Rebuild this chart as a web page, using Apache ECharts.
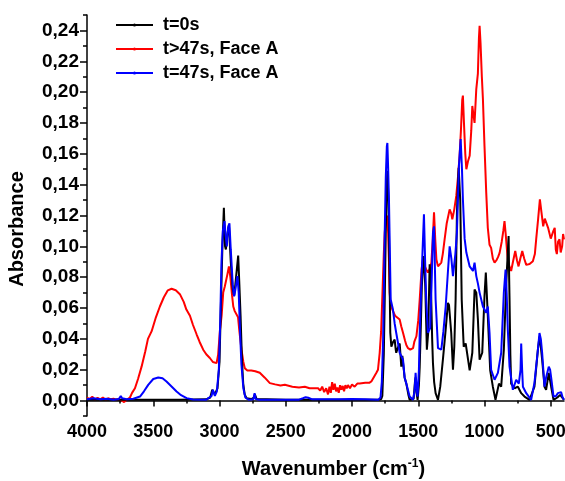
<!DOCTYPE html>
<html><head><meta charset="utf-8">
<script src="https://cdn.jsdelivr.net/npm/echarts@6/dist/echarts.min.js"></script>
<style>html,body{margin:0;padding:0;background:#fff}#c{width:565px;height:481px}</style>
</head><body><div id="c"></div>
<script>
// ---- data ----
const seriesNames = ['t=0s', 't>47s, Face A', 't=47s, Face A'];

const blackWn = [4000,3700,3300,3100,3070,3055,3045,3035,3025,3015,3000,2990,2978,2967,2958,2952,2940,2929,2915,2900,2889,2875,2859,2850,2841,2830,2821,2810,2796,2760,2740,2733,2720,2500,2000,1800,1780,1771,1760,1753,1745,1741,1733,1727,1721,1715,1711,1703,1690,1678,1670,1666,1655,1640,1628,1620,1615,1603,1590,1575,1565,1535,1525,1520,1513,1505,1495,1489,1480,1473,1460,1453,1447,1440,1435,1425,1414,1408,1402,1395,1389,1380,1369,1351,1334,1314,1293,1276,1268,1263,1251,1238,1228,1218,1208,1195,1183,1172,1157,1142,1124,1112,1092,1082,1075,1062,1050,1037,1017,1000,990,975,957,937,917,891,874,854,836,818,814,811,805,799,773,748,723,698,660,623,597,585,575,565,547,535,515,497,479,450,429,400];
const blackAbs = [0.0005,0.0005,0.0005,0.0008,0.002,0.007,0.008,0.004,0.003,0.008,0.025,0.06,0.10,0.125,0.10,0.098,0.108,0.114,0.09,0.072,0.068,0.08,0.094,0.075,0.055,0.025,0.011,0.004,0.0015,0.001,0.002,0.004,0.001,0.0005,0.0005,0.0005,0.001,0.003,0.03,0.0655,0.11,0.13,0.149,0.135,0.109,0.07,0.044,0.035,0.038,0.0395,0.033,0.031,0.034,0.037,0.022,0.029,0.0286,0.015,0.011,0.004,0.0005,0.001,0.012,0.015,0.005,0.0005,0.01,0.022,0.05,0.074,0.0937,0.085,0.074,0.05,0.033,0.044,0.0883,0.08,0.0655,0.04,0.0243,0.012,0.0048,0.0005,0.009,0.0265,0.046,0.0633,0.062,0.061,0.0438,0.020,0.035,0.0655,0.122,0.151,0.130,0.0655,0.035,0.037,0.0265,0.0196,0.031,0.055,0.072,0.070,0.053,0.0265,0.031,0.068,0.083,0.055,0.0196,0.009,0.0005,0.011,0.009,0.033,0.076,0.1067,0.08,0.0655,0.03,0.011,0.008,0.009,0.0048,0.0026,0.0005,0.009,0.033,0.0415,0.035,0.0265,0.009,0.007,0.018,0.009,0.0005,0.002,0.0037,0.0005];

const redWn = [4000,3980,3960,3940,3920,3900,3880,3860,3840,3820,3800,3780,3760,3740,3720,3700,3676,3660,3638,3615,3588,3560,3540,3512,3480,3450,3420,3390,3362,3330,3299,3270,3250,3223,3200,3173,3150,3123,3100,3073,3050,3035,3022,3010,2997,2984,2972,2960,2950,2940,2929,2918,2905,2896,2885,2872,2860,2850,2834,2820,2809,2790,2760,2730,2696,2660,2620,2580,2540,2507,2494,2450,2400,2356,2320,2293,2256,2240,2225,2210,2195,2181,2170,2160,2150,2140,2130,2120,2110,2100,2090,2080,2070,2060,2050,2040,2030,2015,2000,1980,1960,1942,1930,1900,1870,1854,1842,1830,1816,1804,1791,1780,1770,1760,1753,1745,1736,1728,1721,1716,1708,1700,1691,1675,1660,1640,1628,1615,1600,1590,1577,1560,1539,1530,1514,1500,1489,1475,1465,1455,1440,1427,1410,1401,1390,1381,1372,1363,1351,1340,1326,1315,1301,1285,1263,1250,1243,1228,1213,1200,1188,1178,1168,1163,1155,1145,1137,1125,1112,1100,1092,1083,1075,1062,1050,1042,1037,1030,1020,1012,1000,987,975,962,950,937,924,910,898,886,870,858,849,840,830,824,812,799,785,768,755,743,730,715,700,685,660,635,620,610,595,582,570,557,545,532,520,507,500,489,480,470,462,454,445,434,425,414,407,400];
const redAbs = [0.002,0.001,0.0025,0.0005,0.0018,0.0008,0.002,0.0005,0.0015,0.0008,0.0012,0.0006,0.001,0.0002,-0.001,0.0005,0.002,0.005,0.008,0.014,0.022,0.032,0.04,0.045,0.054,0.061,0.067,0.0715,0.0725,0.0715,0.069,0.064,0.059,0.055,0.049,0.043,0.038,0.033,0.030,0.0276,0.025,0.0243,0.0243,0.03,0.045,0.055,0.07,0.074,0.075,0.082,0.087,0.08,0.068,0.061,0.058,0.057,0.054,0.045,0.033,0.025,0.021,0.0195,0.0195,0.019,0.018,0.015,0.0113,0.0105,0.0098,0.0102,0.009,0.009,0.0085,0.009,0.008,0.008,0.008,0.0065,0.009,0.0055,0.008,0.004,0.009,0.005,0.012,0.007,0.011,0.006,0.0085,0.005,0.01,0.007,0.0095,0.006,0.01,0.008,0.010,0.008,0.0105,0.009,0.011,0.011,0.010,0.0115,0.0115,0.0124,0.0135,0.016,0.018,0.020,0.031,0.045,0.07,0.095,0.109,0.117,0.120,0.11,0.09,0.070,0.062,0.06,0.059,0.055,0.054,0.0525,0.048,0.044,0.039,0.036,0.034,0.033,0.034,0.038,0.0417,0.052,0.0655,0.085,0.0915,0.088,0.085,0.083,0.086,0.0895,0.105,0.122,0.105,0.0915,0.087,0.087,0.0895,0.095,0.1045,0.115,0.124,0.121,0.1175,0.124,0.1327,0.145,0.1587,0.175,0.195,0.1977,0.18,0.16,0.150,0.155,0.1587,0.175,0.191,0.185,0.180,0.202,0.212,0.235,0.243,0.232,0.21,0.1956,0.165,0.135,0.112,0.101,0.099,0.092,0.0894,0.091,0.093,0.0958,0.103,0.11,0.1164,0.108,0.097,0.0915,0.087,0.084,0.09,0.097,0.091,0.087,0.092,0.097,0.092,0.088,0.0885,0.0904,0.095,0.1045,0.118,0.1305,0.122,0.113,0.118,0.1175,0.112,0.113,0.105,0.1045,0.11,0.112,0.098,0.095,0.103,0.1045,0.096,0.100,0.108,0.1045];

const blueWn = [4000,3950,3900,3850,3800,3760,3745,3735,3700,3650,3600,3570,3538,3500,3462,3430,3400,3360,3324,3290,3248,3200,3100,3060,3050,3043,3035,3020,3005,2995,2985,2975,2962,2955,2945,2935,2925,2915,2900,2890,2880,2865,2855,2845,2835,2820,2805,2780,2745,2735,2727,2700,2400,2370,2350,2330,2300,2100,2000,1900,1800,1785,1775,1765,1753,1745,1737,1733,1727,1721,1708,1691,1678,1666,1640,1615,1603,1590,1565,1540,1528,1520,1512,1505,1495,1489,1470,1457,1448,1440,1427,1410,1398,1389,1381,1369,1351,1326,1310,1293,1275,1263,1250,1238,1220,1208,1193,1180,1170,1163,1150,1137,1112,1100,1087,1075,1062,1050,1037,1012,987,975,962,950,924,899,874,854,841,833,824,811,786,761,741,728,723,716,710,685,648,623,597,585,575,565,547,535,515,505,497,479,460,446,422,410,400];
const blueAbs = [0.0008,0.0015,0.0008,0.0012,0.0005,0.001,0.003,0.0015,0.0008,0.0012,0.0026,0.006,0.0102,0.014,0.015,0.0145,0.0124,0.009,0.0059,0.0035,0.0016,0.0007,0.0006,0.003,0.007,0.006,0.003,0.006,0.02,0.05,0.09,0.11,0.1164,0.108,0.100,0.112,0.115,0.098,0.075,0.0676,0.072,0.0807,0.07,0.045,0.024,0.008,0.002,0.0006,0.0008,0.0048,0.001,0.0006,0.0006,0.0015,0.0022,0.0018,0.0008,0.0008,0.001,0.0008,0.0006,0.002,0.012,0.04,0.109,0.145,0.165,0.167,0.15,0.13,0.0655,0.059,0.05,0.0438,0.031,0.0265,0.015,0.011,0.0026,0.0005,0.006,0.018,0.008,0.0026,0.02,0.044,0.0915,0.1208,0.09,0.0655,0.044,0.047,0.08,0.109,0.113,0.0655,0.034,0.033,0.045,0.061,0.085,0.100,0.092,0.0807,0.095,0.109,0.152,0.1696,0.15,0.1305,0.105,0.096,0.087,0.086,0.084,0.0894,0.0807,0.076,0.070,0.061,0.057,0.061,0.0438,0.020,0.0135,0.018,0.031,0.070,0.085,0.07,0.046,0.022,0.007,0.0135,0.011,0.02,0.037,0.02,0.009,0.0048,0.0005,0.0115,0.033,0.0438,0.04,0.031,0.009,0.015,0.022,0.02,0.015,0.0026,0.003,0.0048,0.0055,0.002,0.0005];

const xMajorTicks = [4000,3500,3000,2500,2000,1500,1000,500];
const xMinorTicks = [3750,3250,2750,2250,1750,1250,750];
const yMajorTicks = [0,0.02,0.04,0.06,0.08,0.10,0.12,0.14,0.16,0.18,0.20,0.22,0.24];
const yMinorTicks = [-0.01,0.01,0.03,0.05,0.07,0.09,0.11,0.13,0.15,0.17,0.19,0.21,0.23,0.25];

// ---- chart ----
const zip = (a, b) => a.map((v, i) => [v, b[i]]);
const FONT = 'Liberation Sans, Arial, sans-serif';
const chart = echarts.init(document.getElementById('c'), null, {renderer: 'canvas'});

const xBase = {type: 'value', inverse: true, min: 400, max: 4000, position: 'bottom', splitLine: {show: false}};
const yBase = {type: 'value', min: -0.01, max: 0.25, position: 'left', splitLine: {show: false}};

chart.setOption({
  animation: false,
  backgroundColor: '#fff',
  grid: {left: 87, right: 1, top: 15, bottom: 65, containLabel: false, outerBoundsMode: 'none'},
  legend: {
    orient: 'vertical', left: 115, top: 15, itemWidth: 37, itemHeight: 4, itemGap: 4, padding: 0,
    data: seriesNames,
    textStyle: {fontSize: 18, fontWeight: 'bold', color: '#000', fontFamily: FONT, lineHeight: 20, padding: [0, 0, 0, 5]}
  },
  xAxis: [
    Object.assign({}, xBase, {
      axisLine: {show: true, lineStyle: {color: '#000', width: 1.5}},
      axisTick: {show: true, customValues: xMajorTicks, length: 6, lineStyle: {color: '#000', width: 1.5}},
      axisLabel: {show: true, customValues: xMajorTicks, margin: 7, fontSize: 18, fontWeight: 'bold', color: '#000', fontFamily: FONT,
        formatter: v => String(v)},
      name: '{a|Wavenumber (cm}{s|-1}{a|)}',
      nameLocation: 'middle', nameGap: 42,
      nameTextStyle: {
        padding: [0, 0, 0, 16],
        rich: {
          a: {fontSize: 20, fontWeight: 'bold', color: '#000', fontFamily: FONT, lineHeight: 22},
          s: {fontSize: 12, fontWeight: 'bold', color: '#000', fontFamily: FONT, verticalAlign: 'top', lineHeight: 12}
        }
      }
    }),
    Object.assign({}, xBase, {
      axisLine: {show: false},
      axisTick: {show: true, customValues: xMinorTicks, length: 3, lineStyle: {color: '#000', width: 1.5}},
      axisLabel: {show: false}
    })
  ],
  yAxis: [
    Object.assign({}, yBase, {
      axisLine: {show: true, lineStyle: {color: '#000', width: 1.5}},
      axisTick: {show: true, customValues: yMajorTicks, length: 7, lineStyle: {color: '#000', width: 1.5}},
      axisLabel: {show: true, customValues: yMajorTicks, margin: 8, fontSize: 19, fontWeight: 'bold', color: '#000', fontFamily: FONT,
        formatter: v => v.toFixed(2).replace('.', ',')},
      name: 'Absorbance', nameLocation: 'middle', nameGap: 60,
      nameTextStyle: {fontSize: 20, fontWeight: 'bold', color: '#000', fontFamily: FONT, padding: [0, 27, 0, 0]}
    }),
    Object.assign({}, yBase, {
      axisLine: {show: false},
      axisTick: {show: true, customValues: yMinorTicks, length: 4, lineStyle: {color: '#000', width: 1.5}},
      axisLabel: {show: false}
    })
  ],
  series: [
    {name: seriesNames[1], type: 'line', xAxisIndex: 0, yAxisIndex: 0, data: zip(redWn, redAbs), symbol: 'none', color: '#ff0000', lineStyle: {width: 2, color: '#ff0000'}},
    {name: seriesNames[0], type: 'line', xAxisIndex: 0, yAxisIndex: 0, data: zip(blackWn, blackAbs), symbol: 'none', color: '#000000', lineStyle: {width: 2, color: '#000000'}},
    {name: seriesNames[2], type: 'line', xAxisIndex: 0, yAxisIndex: 0, data: zip(blueWn, blueAbs), symbol: 'none', color: '#0000ff', lineStyle: {width: 2, color: '#0000ff'}}
  ]
});
</script></body></html>
